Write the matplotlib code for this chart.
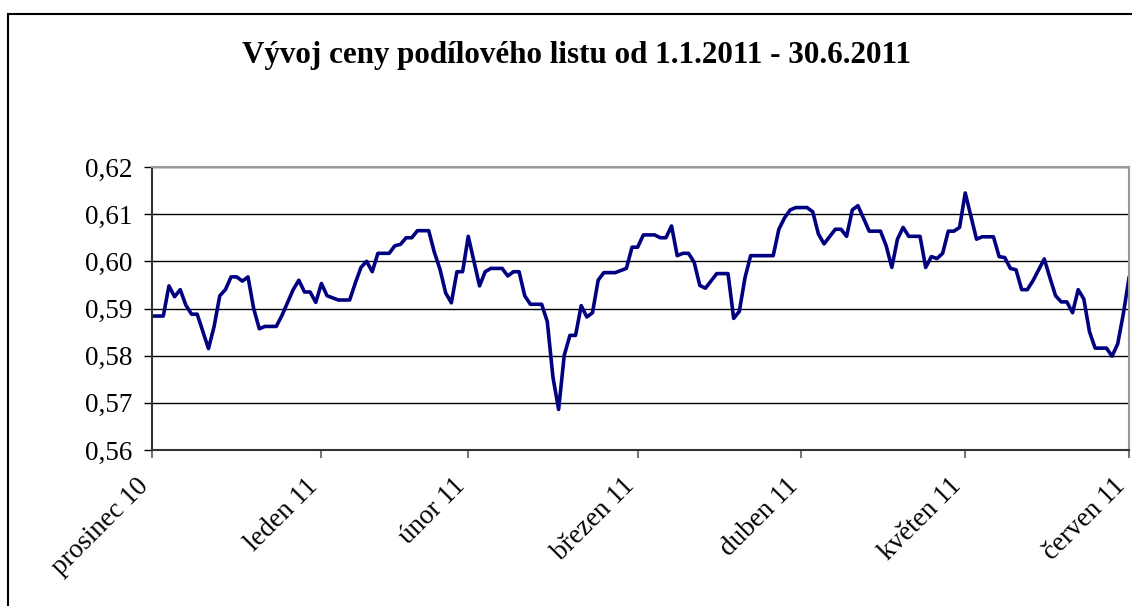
import matplotlib
matplotlib.use("Agg")
import matplotlib.pyplot as plt
from matplotlib.patches import Rectangle
from matplotlib.transforms import ScaledTranslation

obs_day = [
    0, 2, 3, 4, 5, 6, 7, 8, 10, 11, 12, 13, 14, 15, 16, 17, 18, 19, 20, 22,
    23, 25, 26, 27, 28, 29, 30, 31, 33, 35, 36, 37, 38, 39, 40, 42, 43, 44, 45, 46,
    47, 49, 50, 51, 52, 53, 54, 55, 56, 57, 58, 59, 60, 62, 63, 64, 65, 66, 67, 69,
    70, 71, 72, 73, 74, 75, 76, 77, 78, 79, 80, 82, 84, 85, 86, 87, 89, 90, 91, 92,
    93, 94, 95, 96, 97, 98, 100, 102, 103, 104, 105, 106, 110, 111, 112, 113, 114, 116, 117, 118,
    119, 121, 122, 123, 124, 125, 127, 129, 130, 131, 132, 133, 134, 136, 137, 138, 139, 140, 141, 142,
    143, 144, 145, 146, 147, 149, 150, 151, 152, 153, 154, 155, 156, 158, 159, 160, 161, 162, 163, 164,
    165, 166, 167, 169, 170, 171, 172, 173,
]
price = [
    0.5884, 0.5884, 0.5948, 0.5925, 0.5940, 0.5907, 0.5888, 0.5888, 0.5815, 0.5862,
    0.5927, 0.5940, 0.5967, 0.5967, 0.5958, 0.5967, 0.5900, 0.5857, 0.5862, 0.5862,
    0.5885, 0.5940, 0.5960, 0.5935, 0.5935, 0.5913, 0.5953, 0.5927, 0.5918, 0.5918,
    0.5954, 0.5987, 0.6000, 0.5978, 0.6017, 0.6017, 0.6033, 0.6036, 0.6050, 0.6050,
    0.6065, 0.6065, 0.6019, 0.5983, 0.5933, 0.5912, 0.5978, 0.5978, 0.6053, 0.6001,
    0.5948, 0.5978, 0.5985, 0.5985, 0.5969, 0.5978, 0.5978, 0.5927, 0.5909, 0.5909,
    0.5872, 0.5754, 0.5686, 0.5801, 0.5843, 0.5843, 0.5906, 0.5882, 0.5891, 0.5960,
    0.5976, 0.5976, 0.5985, 0.6030, 0.6030, 0.6056, 0.6056, 0.6050, 0.6050, 0.6075,
    0.6012, 0.6017, 0.6017, 0.5998, 0.5949, 0.5943, 0.5974, 0.5974, 0.5879, 0.5894,
    0.5965, 0.6012, 0.6012, 0.6068, 0.6092, 0.6109, 0.6114, 0.6114, 0.6105, 0.6058,
    0.6037, 0.6068, 0.6068, 0.6053, 0.6109, 0.6118, 0.6064, 0.6064, 0.6033, 0.5987,
    0.6047, 0.6072, 0.6053, 0.6053, 0.5987, 0.6010, 0.6006, 0.6017, 0.6064, 0.6064,
    0.6072, 0.6145, 0.6096, 0.6047, 0.6052, 0.6052, 0.6010, 0.6008, 0.5985, 0.5982,
    0.5940, 0.5940, 0.5959, 0.6005, 0.5965, 0.5927, 0.5914, 0.5914, 0.5891, 0.5940,
    0.5920, 0.5851, 0.5816, 0.5816, 0.5799, 0.5825, 0.5889, 0.5965,
]

month_ticks = [0, 30, 56, 86, 115, 144, 173]
month_labels = ["prosinec 10", "leden 11", "únor 11", "březen 11",
                "duben 11", "květen 11", "červen 11"]
y_ticks = [0.56, 0.57, 0.58, 0.59, 0.60, 0.61, 0.62]

title = "Vývoj ceny podílového listu od 1.1.2011 - 30.6.2011"

plt.rcParams["font.family"] = ["Liberation Serif", "DejaVu Serif"]

fig = plt.figure(figsize=(11.32, 6.06), dpi=100)
ax = fig.add_axes([152 / 1132, 1 - 450 / 606, (1129 - 152) / 1132, (450 - 167) / 606])

ax.plot(obs_day, price, color="#000080", linewidth=2.6, solid_joinstyle="round")

ax.set_xlim(month_ticks[0], month_ticks[-1])
ax.set_ylim(y_ticks[0], y_ticks[-1])
ax.set_yticks(y_ticks)
ax.set_yticklabels([f"{v:.2f}".replace(".", ",") for v in y_ticks], fontsize=19.5)
ax.set_xticks(month_ticks)
ax.set_xticklabels(month_labels, fontsize=19.5, rotation=45, ha="right",
                   rotation_mode="anchor")

ax.grid(axis="y", color="black", linewidth=1.0)
ax.set_axisbelow(True)

for side in ("top", "right"):
    ax.spines[side].set_color("#999999")
    ax.spines[side].set_linewidth(1.5)
for side in ("left", "bottom"):
    ax.spines[side].set_color("#333333")
    ax.spines[side].set_linewidth(1.5)

ax.tick_params(axis="y", direction="out", length=6, width=1, color="black", pad=8)
ax.tick_params(axis="x", direction="out", length=6, width=1.5, color="#777777", pad=11)

# nudge the slanted month labels to the left of their ticks (after tick_params,
# which would otherwise reset the label transforms)
shift = ScaledTranslation(-16 / 100, 0, fig.dpi_scale_trans)
for tick in ax.xaxis.get_major_ticks():
    tick.label1.set_transform(tick.label1.get_transform() + shift)

fig.text(576 / 1132, 1 - 55 / 606, title, ha="center", va="center",
         fontsize=22.4, fontweight="bold")

# outer chart frame (clipped by the image on the right and bottom)
fig.patches.append(Rectangle((8 / 1132, -0.1), 1.2, 1.1 - 14 / 606,
                             transform=fig.transFigure, fill=False,
                             edgecolor="black", linewidth=1.5))

fig.savefig("out.png", dpi=100)
plt.close(fig)
